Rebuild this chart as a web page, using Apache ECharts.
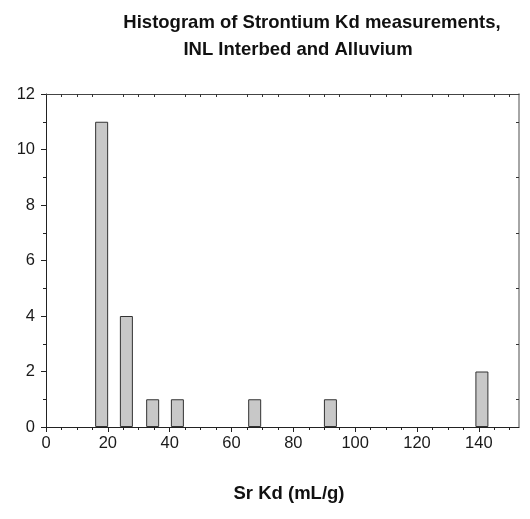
<!DOCTYPE html>
<html>
<head>
<meta charset="utf-8">
<script src="https://cdn.jsdelivr.net/npm/echarts@6/dist/echarts.min.js"></script>
<style>
html,body{margin:0;padding:0;background:#fff;}
#chart{width:530px;height:519px;}
</style>
</head>
<body>
<div id="chart"></div>
<script>
var titleLines = ['Histogram of Strontium Kd measurements,', 'INL Interbed and Alluvium'];
var xAxisTitle = 'Sr Kd (mL/g)';
var binCenters = [18, 26, 34.5, 42.5, 67.5, 92, 141];
var counts = [11, 4, 1, 1, 1, 1, 2];
var xMajorTicks = [0, 20, 40, 60, 80, 100, 120, 140];
var xMinorTicks = [5, 10, 15, 25, 30, 35, 45, 50, 55, 65, 70, 75, 85, 90, 95, 105, 110, 115, 125, 130, 135, 145, 150];
var yMajorTicks = [0, 2, 4, 6, 8, 10, 12];
var yMinorTicks = [1, 3, 5, 7, 9, 11];

var FONT = '"Liberation Sans", Arial, sans-serif';
var chart = echarts.init(document.getElementById('chart'));

var barData = binCenters.map(function (c, i) { return [c, counts[i]]; });

chart.setOption({
  animation: false,
  title: [
    { text: titleLines[0], left: 307, top: 8, textAlign: 'center',
      textStyle: { fontFamily: FONT, fontWeight: 'bold', fontSize: 18.5, color: '#111' } },
    { text: titleLines[1], left: 293, top: 35, textAlign: 'center',
      textStyle: { fontFamily: FONT, fontWeight: 'bold', fontSize: 18.5, color: '#111' } },
    { text: xAxisTitle, left: 284, top: 479, textAlign: 'center',
      textStyle: { fontFamily: FONT, fontWeight: 'bold', fontSize: 18.5, color: '#111' } }
  ],
  grid: { left: 46, right: 11, top: 94, bottom: 92, containLabel: false },
  xAxis: [
    {
      type: 'value', position: 'bottom', min: 0, max: 153,
      splitLine: { show: false },
      axisLine: { show: true, onZero: false, lineStyle: { color: '#222', width: 1 } },
      axisTick: { show: true, inside: false, length: 5, customValues: xMajorTicks, lineStyle: { color: '#222' } },
      axisLabel: { show: true, customValues: xMajorTicks, margin: 8, fontFamily: FONT, fontSize: 16.5, color: '#1a1a1a' }
    },
    {
      type: 'value', position: 'bottom', min: 0, max: 153,
      splitLine: { show: false },
      axisLine: { show: false, onZero: false },
      axisTick: { show: true, inside: false, length: 3, customValues: xMinorTicks, lineStyle: { color: '#222' } },
      axisLabel: { show: false }
    },
    {
      type: 'value', position: 'top', min: 0, max: 153,
      splitLine: { show: false },
      axisLine: { show: true, onZero: false, lineStyle: { color: '#444', width: 1 } },
      axisTick: { show: true, inside: true, length: 3, customValues: xMinorTicks, lineStyle: { color: '#333' } },
      axisLabel: { show: false }
    }
  ],
  yAxis: [
    {
      type: 'value', position: 'left', min: 0, max: 12,
      splitLine: { show: false },
      axisLine: { show: true, onZero: false, lineStyle: { color: '#222', width: 1 } },
      axisTick: { show: true, inside: false, length: 5, customValues: yMajorTicks, lineStyle: { color: '#222' } },
      axisLabel: { show: true, customValues: yMajorTicks, margin: 11, fontFamily: FONT, fontSize: 16.5, color: '#1a1a1a' }
    },
    {
      type: 'value', position: 'left', min: 0, max: 12,
      splitLine: { show: false },
      axisLine: { show: false, onZero: false },
      axisTick: { show: true, inside: false, length: 3, customValues: yMinorTicks, lineStyle: { color: '#222' } },
      axisLabel: { show: false }
    },
    {
      type: 'value', position: 'right', min: 0, max: 12,
      splitLine: { show: false },
      axisLine: { show: true, onZero: false, lineStyle: { color: '#888', width: 1.5 } },
      axisTick: { show: true, inside: true, length: 3, customValues: yMinorTicks, lineStyle: { color: '#333' } },
      axisLabel: { show: false }
    }
  ],
  series: [{
    type: 'bar',
    xAxisIndex: 0, yAxisIndex: 0,
    data: barData,
    barWidth: 13,
    itemStyle: { color: '#c8c8c8', borderColor: '#333', borderWidth: 1 }
  }]
});
</script>
</body>
</html>
